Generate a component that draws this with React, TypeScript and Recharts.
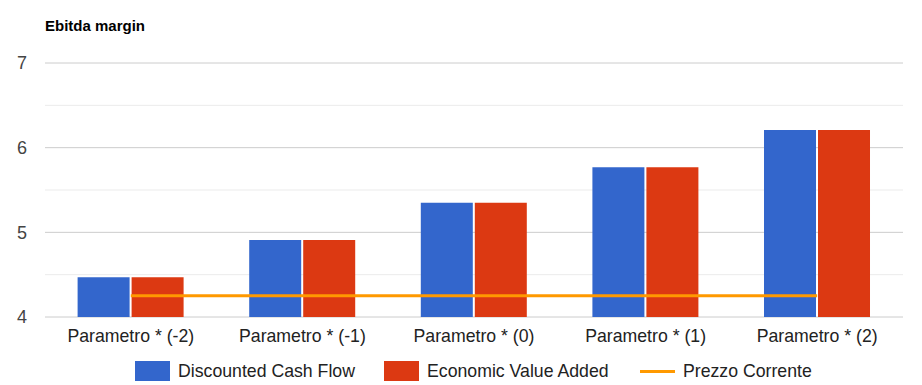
import { Bar, CartesianGrid, ComposedChart, Line, XAxis, YAxis } from "recharts";

const categories = [
  "Parametro * (-2)",
  "Parametro * (-1)",
  "Parametro * (0)",
  "Parametro * (1)",
  "Parametro * (2)",
];
const dcfValues = [4.47, 4.91, 5.35, 5.77, 6.21];
const evaValues = [4.47, 4.91, 5.35, 5.77, 6.21];
const prezzoValues = [4.25, 4.25, 4.25, 4.25, 4.25];
const yTicks = [4, 4.5, 5, 5.5, 6, 6.5, 7];

const data = categories.map((name, i) => ({
  name,
  dcf: dcfValues[i],
  eva: evaValues[i],
  prezzo: prezzoValues[i],
}));

const font = "Arial, 'Liberation Sans', sans-serif";

function LegendRow() {
  const item = (label: string, icon: JSX.Element, left: number) => (
    <div style={{ position: "absolute", left, top: 0, display: "flex", alignItems: "center", height: 20 }}>
      {icon}
      <span style={{ marginLeft: 8, fontSize: 17.7, color: "#222" }}>{label}</span>
    </div>
  );
  return (
    <div style={{ position: "absolute", left: 0, top: 361, width: 922, height: 20, fontFamily: font }}>
      {item("Discounted Cash Flow", <div style={{ width: 35, height: 20, background: "#3366cc" }} />, 135)}
      {item("Economic Value Added", <div style={{ width: 35, height: 20, background: "#dc3912" }} />, 384)}
      {item("Prezzo Corrente", <div style={{ width: 35, height: 3, background: "#ff9900" }} />, 640)}
    </div>
  );
}

// integer lines darker, half-unit lines lighter
const gridLine = (p: any) => (
  <line
    key={`g-${p.index}`}
    x1={p.x1}
    y1={p.y1}
    x2={p.x2}
    y2={p.y2}
    stroke={p.index % 2 ? "#ebebeb" : "#cccccc"}
    strokeWidth={1}
  />
);

export default function App() {
  return (
    <div style={{ position: "absolute", left: 0, top: 0, width: 922, height: 385, background: "#fff", fontFamily: font }}>
      <div style={{ position: "absolute", left: 45, top: 17, fontSize: 15, fontWeight: "bold", color: "#000" }}>
        Ebitda margin
      </div>
      <ComposedChart
        width={922}
        height={385}
        data={data}
        margin={{ top: 63, right: 19, left: 0, bottom: 38 }}
        barGap={2}
        barCategoryGap="19%"
      >
        <CartesianGrid vertical={false} horizontal={gridLine} />
        <XAxis
          dataKey="name"
          tickLine={false}
          axisLine={false}
          tickSize={0}
          tickMargin={12}
          tick={{ fill: "#222", fontSize: 17.7, fontFamily: font }}
          interval={0}
        />
        <YAxis
          width={45}
          domain={[4, 7]}
          ticks={yTicks}
          type="number"
          tickLine={false}
          axisLine={false}
          tickSize={0}
          tickMargin={18}
          tickFormatter={(v: number) => (Number.isInteger(v) ? String(v) : "")}
          tick={{ fill: "#444", fontSize: 18, fontFamily: font }}
        />
        <Bar dataKey="dcf" fill="#3366cc" isAnimationActive={false} />
        <Bar dataKey="eva" fill="#dc3912" isAnimationActive={false} />
        <Line
          dataKey="prezzo"
          stroke="#ff9900"
          strokeWidth={3}
          dot={false}
          activeDot={false}
          type="linear"
          isAnimationActive={false}
        />
      </ComposedChart>
      <LegendRow />
    </div>
  );
}
